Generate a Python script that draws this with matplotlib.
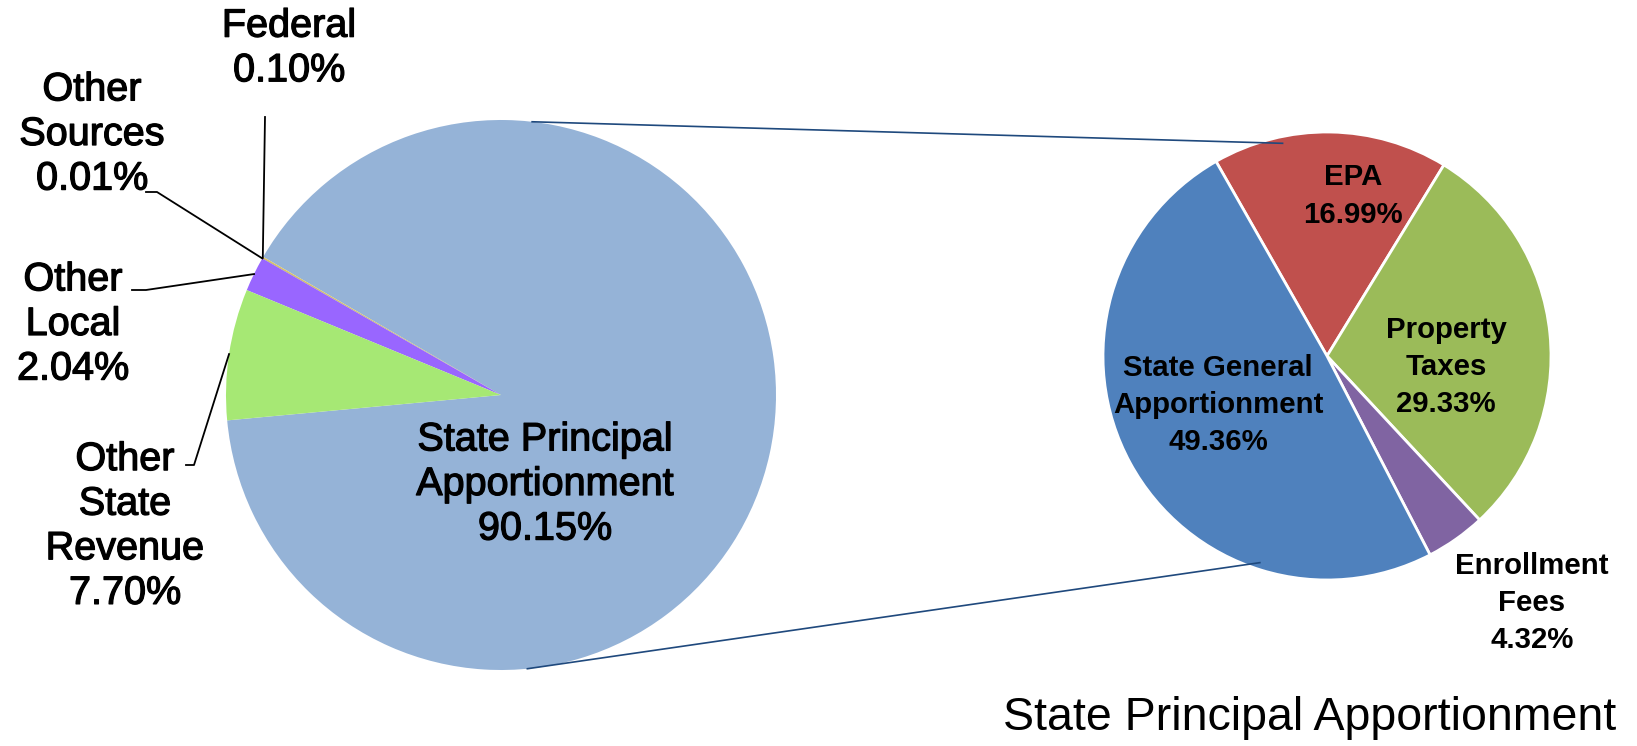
import numpy as np
import matplotlib.pyplot as plt
import matplotlib.patheffects as pe

plt.rcParams['font.family'] = ['Liberation Sans', 'DejaVu Sans']

# left pie: all revenue sources
main_labels = ['State Principal\nApportionment', 'Federal', 'Other\nSources', 'Other\nLocal', 'Other\nState\nRevenue']
main_values = [90.15, 0.10, 0.01, 2.04, 7.70]
main_colors = ['#95B3D7', '#D9C26A', '#1F497D', '#9966FF', '#A6E874']

# right pie: breakdown of State Principal Apportionment
sub_labels = ['EPA', 'Property\nTaxes', 'Enrollment\nFees', 'State General\nApportionment']
sub_values = [16.99, 29.33, 4.32, 49.36]
sub_colors = ['#C0504D', '#9BBB59', '#8064A2', '#4F81BD']

W, H = 1637, 746
fig = plt.figure(figsize=(W / 100, H / 100), dpi=100)
ax = fig.add_axes([0, 0, 1, 1])
ax.set_xlim(0, W)
ax.set_ylim(0, H)
ax.set_aspect('equal')
ax.axis('off')

c1, r1 = (501, 351), 275
c2, r2 = (1327, 390), 224

w1, _ = ax.pie(main_values, colors=main_colors, center=c1, radius=r1,
               startangle=185.3, counterclock=True, normalize=True,
               wedgeprops=dict(linewidth=0))
w2, _ = ax.pie(sub_values, colors=sub_colors, center=c2, radius=r2,
               startangle=119.7, counterclock=False, normalize=True,
               wedgeprops=dict(linewidth=2, edgecolor='white'))
ax.set_xlim(0, W)
ax.set_ylim(0, H)


def edge_pt(c, r, ang):
    a = np.deg2rad(ang)
    return c[0] + r * np.cos(a), c[1] + r * np.sin(a)


# connector lines between the pies
for a1, a2 in [(83.5, 101.8), (-84.5, -108.0)]:
    p1 = edge_pt(c1, r1, a1)
    p2 = edge_pt(c2, r2 * 0.97, a2)
    ax.plot([p1[0], p2[0]], [p1[1], p2[1]], color='#1F497D', lw=1.2, zorder=5)

# labels of the big pie
big_fs = 28.5
heavy = [pe.withStroke(linewidth=0.9, foreground='black')]
ax.text(545, 262, f'{main_labels[0]}\n{main_values[0]:.2f}%', ha='center', va='center',
        fontsize=big_fs, linespacing=1.22, path_effects=heavy)

label_pos = {1: (289, 698), 2: (92, 612), 3: (73, 422), 4: (125, 220)}
leader_start = {1: [(265, 629)], 2: [(146, 554), (157, 554)],
                3: [(132, 456), (146, 456)], 4: [(186, 281), (194, 281)]}
for i, w in enumerate(w1):
    if i == 0:
        continue
    mid = (w.theta1 + w.theta2) / 2
    ex, ey = edge_pt(c1, r1, mid)
    pts = leader_start[i] + [(ex, ey)]
    ax.plot([p[0] for p in pts], [p[1] for p in pts], color='black', lw=1.3, zorder=4)
    ax.text(*label_pos[i], f'{main_labels[i]}\n{main_values[i]:.2f}%', ha='center', va='center',
            fontsize=big_fs, linespacing=1.22, path_effects=heavy)

# labels of the small pie
sub_pos = [(1353, 550), (1446, 379), (1532, 143), (1218, 341)]
for lab, v, pos in zip(sub_labels, sub_values, sub_pos):
    ax.text(pos[0], pos[1], f'{lab}\n{v:.2f}%', ha='center', va='center',
            fontsize=21.2, fontweight='bold', linespacing=1.42)

ax.text(1616, 28, 'State Principal Apportionment', ha='right', va='center', fontsize=33.5)

fig.savefig('out.png', dpi=100)
